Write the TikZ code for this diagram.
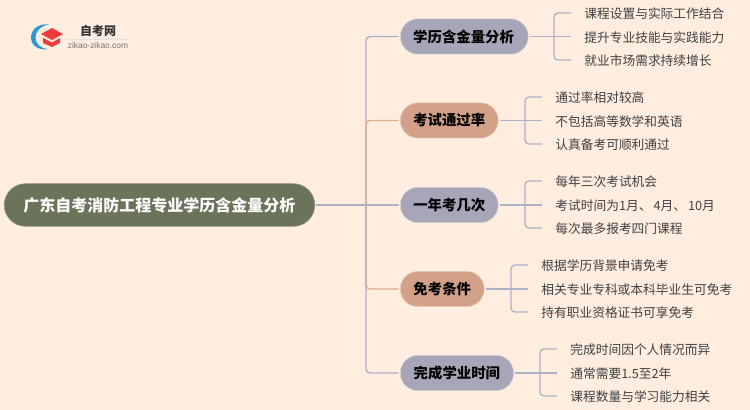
\documentclass[tikz,border=0pt]{standalone}
\usepackage{fontspec}
\setmainfont{Noto Sans CJK SC}
\newfontfamily\latinfont{Liberation Sans}
\usetikzlibrary{shapes.misc}
\definecolor{paper}{HTML}{FFEEE0}
\definecolor{slate}{HTML}{A6A6B8}
\definecolor{clay}{HTML}{D2A188}
\definecolor{moss}{HTML}{6B735B}
\definecolor{greyline}{HTML}{AEB0C6}
\definecolor{clayline}{HTML}{E0AC8E}
\definecolor{leaftext}{HTML}{404040}
\definecolor{logoblue}{HTML}{2C9AD6}
\definecolor{logored}{HTML}{EE3B3B}
\begin{document}
\begin{tikzpicture}[x=0.75pt,y=-0.75pt]
    \def\dx{1}
    \def\dy{1}

    \tikzstyle{root}=[rounded rectangle,fill=moss,draw=moss!70!paper,line width=0.4pt,text=white,font=\fontsize{12}{14}\selectfont\bfseries,minimum width=233pt,minimum height=32pt,inner sep=0pt]
    \tikzstyle{topic}=[rounded rectangle,draw=paper!60!slate,line width=0.4pt,text=black,font=\fontsize{10.8}{13}\selectfont\bfseries,minimum height=26.5pt,inner sep=0pt,anchor=west]
    \tikzstyle{greytopic}=[topic,fill=slate]
    \tikzstyle{claytopic}=[topic,fill=clay,draw=paper!60!clay]
    \tikzstyle{leaf}=[anchor=west,text=leaftext,font=\fontsize{9.55}{12}\selectfont,inner ysep=0pt,inner xsep=9.8pt,text height=9.4pt,text depth=0.6pt]
    \tikzstyle{fwd}=[draw=greyline,line width=1.1pt,rounded corners=3pt]
    \tikzstyle{hot}=[draw=clayline,line width=1.1pt,rounded corners=3pt]
    \tikzstyle{twig}=[draw=greyline,line width=1pt,rounded corners=3pt]

    \fill[paper] (0,0) rectangle (750,410);

    % logo
    \fill[logoblue] (49,24.5) .. controls (38,23) and (31,30) .. (31,37.5) .. controls (31,45) and (38,51) .. (49,49) .. controls (41,49) and (35.5,44) .. (35.5,37.5) .. controls (35.5,31) and (41,25.5) .. (49,24.5) -- cycle;
    \fill[logored] (52,28) -- (63,34) -- (52,40) -- (41,34) -- cycle;
    \fill[logored] (43,38) -- (52,42.5) -- (60,38) -- (60,43) -- (52,47) -- (43,43) -- cycle;
    \node[font=\fontsize{9}{11}\selectfont\bfseries,text=black!80] (brand) at (98*\dx,31*\dy) {自考网};
    \node[font=\fontsize{6.3}{8}\selectfont\latinfont,text=black!55] (site) at (98*\dx,45*\dy) {zikao-zikao.com};
    \draw[black!12,line width=0.4pt] (66,39) -- (130,39);

    \node[root]  (main) at (159.5*\dx,205*\dy) {广东自考消防工程专业学历含金量分析};
    \coordinate (hub) at (366*\dx,205*\dy);

    \node[greytopic,minimum width=96pt]  (degree) at (400*\dx,36.5*\dy) {\kern-1pt学历含金量分析};
    \node[claytopic,minimum width=73.5pt]  (pass) at (400*\dx,120.5*\dy) {考试通过率};
    \node[greytopic,minimum width=73.5pt]  (times) at (400*\dx,205*\dy) {一年考几次};
    \node[claytopic,minimum width=63pt]  (exempt) at (400*\dx,289*\dy) {免考条件};
    \node[greytopic,minimum width=85pt]  (finish) at (400*\dx,373*\dy) {完成学业时间};

    \node[leaf]  (degreea) at (571*\dx,13*\dy) {课程设置与实际工作结合};
    \node[leaf]  (degreeb) at (571*\dx,36.5*\dy) {提升专业技能与实践能力};
    \node[leaf]  (degreec) at (571*\dx,60*\dy) {就业市场需求持续增长};

    \node[leaf]  (passa) at (542*\dx,97*\dy) {通过率相对较高};
    \node[leaf]  (passb) at (542*\dx,120.5*\dy) {不包括高等数学和英语};
    \node[leaf]  (passc) at (542*\dx,144*\dy) {认真备考可顺利通过};

    \node[leaf]  (timesa) at (542*\dx,181*\dy) {每年三次考试机会};
    \node[leaf]  (timesb) at (542*\dx,205*\dy) {考试时间为1月、\kern1.5pt 4月、\kern1.5pt 10月};
    \node[leaf]  (timesc) at (542*\dx,228*\dy) {每次最多报考四门课程};

    \node[leaf]  (exempta) at (528*\dx,265*\dy) {根据学历背景申请免考};
    \node[leaf]  (exemptb) at (528*\dx,289*\dy) {相关专业专科或本科毕业生可免考};
    \node[leaf]  (exemptc) at (528*\dx,312*\dy) {持有职业资格证书可享免考};

    \node[leaf]  (finisha) at (557*\dx,349*\dy) {完成时间因个人情况而异};
    \node[leaf]  (finishb) at (557*\dx,373*\dy) {通常需要1.5至2年};
    \node[leaf]  (finishc) at (557*\dx,396*\dy) {课程数量与学习能力相关};

    \coordinate (degreehub) at (554*\dx,36.5*\dy);
    \coordinate (passhub) at (525*\dx,120.5*\dy);
    \coordinate (timeshub) at (525*\dx,205*\dy);
    \coordinate (exempthub) at (511*\dx,289*\dy);
    \coordinate (finishhub) at (540*\dx,373*\dy);

          \draw [fwd] (hub) |- ([xshift=-1pt]degree.west);
          \draw [hot] (hub) |- ([xshift=-1pt]pass.west);
          \draw [hot] (hub) |- ([xshift=-1pt]exempt.west);
          \draw [fwd] (hub) |- ([xshift=-1pt]finish.west);
          \draw [fwd] ([xshift=1pt]main.east) -- ([xshift=-1pt]times.west);

          \draw [twig] ([xshift=1pt]degree.east) -- (degreeb.west);
          \draw [twig] (degreehub) |- (degreea.west);
          \draw [twig] (degreehub) |- (degreec.west);
          \draw [twig] ([xshift=1pt]pass.east) -- (passb.west);
          \draw [twig] (passhub) |- (passa.west);
          \draw [twig] (passhub) |- (passc.west);
          \draw [twig] ([xshift=1pt]times.east) -- (timesb.west);
          \draw [twig] (timeshub) |- (timesa.west);
          \draw [twig] (timeshub) |- (timesc.west);
          \draw [twig] ([xshift=1pt]exempt.east) -- (exemptb.west);
          \draw [twig] (exempthub) |- (exempta.west);
          \draw [twig] (exempthub) |- (exemptc.west);
          \draw [twig] ([xshift=1pt]finish.east) -- (finishb.west);
          \draw [twig] (finishhub) |- (finisha.west);
          \draw [twig] (finishhub) |- (finishc.west);
  \end{tikzpicture}
\end{document}
